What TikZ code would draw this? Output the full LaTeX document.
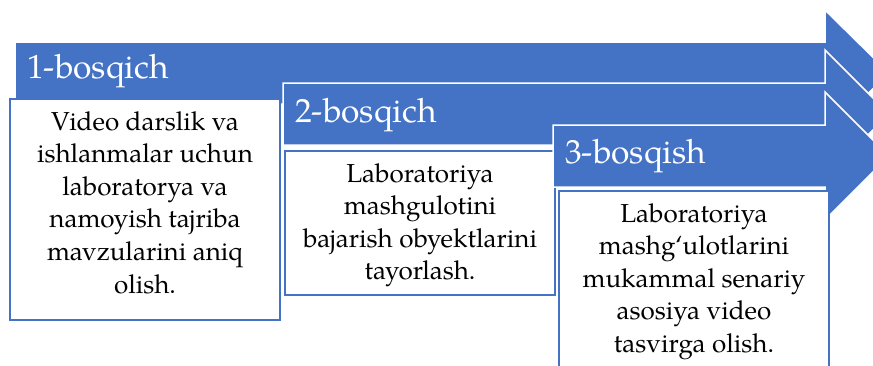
\documentclass[tikz,border=0pt]{standalone}
\usepackage{fontspec}
\setmainfont{TeX Gyre Pagella}
\definecolor{accent}{HTML}{4472C4}
\tikzset{
  stagearrow/.style={fill=accent, draw=white, line width=1.5pt, line join=miter},
  stagebox/.style={fill=white, draw=accent, line width=2pt, anchor=north west, inner sep=0pt},
  stagetitle/.style={text=white, anchor=base west, inner sep=0pt, font=\fontsize{33.5}{38}\selectfont},
  stagetext/.style={anchor=north, inner sep=0pt, align=center, font=\fontsize{26}{32.6}\selectfont},
}
\begin{document}
\begin{tikzpicture}[x=1pt,y=-1pt]
\useasboundingbox (0,0) rectangle (873,365);
\clip (0,0) rectangle (873,365);
% arrow 1
\draw[stagearrow] (15,42) -- (825,42) -- (825,10) -- (889,73) -- (825,136) -- (825,104) -- (15,104) -- cycle;
\node[stagebox, minimum width=270pt, minimum height=221pt] (b1) at (9,98) {};
\node[stagetitle] (t1) at (27,78) {1-bosqich};
\node[stagetext] (x1) at (b1.north |- 0,111) {Video darslik va\\ishlanmalar uchun\\laboratorya va\\namoyish tajriba\\mavzularini aniq\\olish.};
% arrow 2
\draw[stagearrow] (283,83) -- (825,83) -- (825,50) -- (889,114) -- (825,178) -- (825,145) -- (283,145) -- cycle;
\node[stagebox, minimum width=270pt, minimum height=144pt] (b2) at (284,150) {};
\node[stagetitle] (t2) at (295,122) {2-bosqich};
\node[stagetext] (x2) at (b2.north |- 0,163) {Laboratoriya\\mashgulotini\\bajarish obyektlarini\\tayorlash.};
% arrow 3
\draw[stagearrow] (553,125) -- (825,125) -- (825,92) -- (889,156) -- (825,220) -- (825,187) -- (553,187) -- cycle;
\node[stagebox, minimum width=270pt, minimum height=190pt] (b3) at (558,190) {};
\node[stagetitle] (t3) at (565,163) {3-bosqish};
\node[stagetext] (x3) at (b3.north |- 0,203) {Laboratoriya\\mashg‘ulotlarini\\mukammal senariy\\asosiya video\\tasvirga olish.};
\end{tikzpicture}
\end{document}
